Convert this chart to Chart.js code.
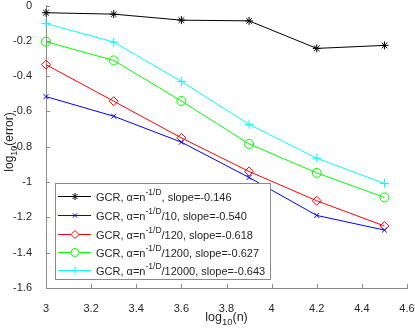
<!DOCTYPE html>
<html>
<head>
<meta charset="utf-8">
<script src="https://cdn.jsdelivr.net/npm/chart.js@4/dist/chart.umd.min.js"></script>
<style>
  html, body { margin: 0; padding: 0; background: #fff; }
  #wrap { width: 415px; height: 328px; }
</style>
</head>
<body>
<div id="wrap"><canvas id="errChart"></canvas></div>
<script>
// =========================
// DATA
// =========================

const logN = [3, 3.3, 3.6, 3.9, 4.2, 4.5];

const errA1 = [-0.041, -0.049, -0.083, -0.087, -0.243, -0.226];
const errA10 = [-0.516, -0.627, -0.774, -0.974, -1.189, -1.272];
const errA120 = [-0.335, -0.542, -0.750, -0.940, -1.106, -1.249];
const errA1200 = [-0.205, -0.311, -0.541, -0.784, -0.948, -1.087];
const errA12000 = [-0.102, -0.207, -0.430, -0.673, -0.865, -1.008];

const divisors = ["", "/10", "/120", "/1200", "/12000"];
const slopes = ["-0.146", "-0.540", "-0.618", "-0.627", "-0.643"];

const xTicks = [3, 3.2, 3.4, 3.6, 3.8, 4, 4.2, 4.4, 4.6];
const yTicks = [0, -0.2, -0.4, -0.6, -0.8, -1, -1.2, -1.4, -1.6];


// =========================
// STYLE
// =========================

const FONT = "'Liberation Sans', Arial, sans-serif";
const TEXT = "#262626";
const AXIS = "#8a8a8a";

const seriesStyle = [
  { color: "#000000", point: "star", radius: 4 },
  { color: "#0000ff", point: "crossRot", radius: 3.5 },
  { color: "#ff0000", point: "rectRot", radius: 4.5 },
  { color: "#00ff00", point: "circle", radius: 4.5 },
  { color: "#00ffff", point: "cross", radius: 4.5 }
];

const seriesData = [errA1, errA10, errA120, errA1200, errA12000];


function toPoints(values) {

  return values.map(
    (v, i) => ({ x: logN[i], y: v })
  );

}


// draw text made of runs: [text, dy, size]
function drawRuns(ctx, runs, x, y) {

  let cx = x;

  runs.forEach(run => {
    ctx.font = run[2] + "px " + FONT;
    ctx.fillText(run[0], cx, y + run[1]);
    cx += ctx.measureText(run[0]).width;
  });

  return cx - x;

}

function runsWidth(ctx, runs) {

  let w = 0;

  runs.forEach(run => {
    ctx.font = run[2] + "px " + FONT;
    w += ctx.measureText(run[0]).width;
  });

  return w;

}


// =========================
// AXES + LEGEND PLUGIN
// =========================

const matlabAxes = {

  id: "matlabAxes",

  afterDraw(chart) {

    const ctx = chart.ctx;
    const xs = chart.scales.x;
    const ys = chart.scales.y;
    const area = chart.chartArea;

    ctx.save();

    // inward ticks
    ctx.strokeStyle = AXIS;
    ctx.lineWidth = 1;
    ctx.beginPath();

    xTicks.forEach(t => {
      const px = Math.round(xs.getPixelForValue(t)) + 0.5;
      ctx.moveTo(px, area.bottom);
      ctx.lineTo(px, area.bottom - 4);
    });

    yTicks.forEach(t => {
      const py = Math.round(ys.getPixelForValue(t)) + 0.5;
      ctx.moveTo(area.left, py);
      ctx.lineTo(area.left + 4, py);
    });

    ctx.stroke();

    // axis titles
    ctx.fillStyle = TEXT;
    ctx.textBaseline = "alphabetic";

    const xTitle = [["log", 0, 12.5], ["10", 4, 9.5], ["(n)", 0, 12.5]];
    const xw = runsWidth(ctx, xTitle);
    drawRuns(ctx, xTitle, (area.left + area.right) / 2 - xw / 2, 321);

    const yTitle = [["log", 0, 12], ["10", 4, 9], ["(error)", 0, 12]];
    const yw = runsWidth(ctx, yTitle);
    ctx.save();
    ctx.translate(13, 142);
    ctx.rotate(-Math.PI / 2);
    drawRuns(ctx, yTitle, -yw / 2, 0);
    ctx.restore();

    // legend box
    const lx = 55;
    const ly = 183;
    const lw = 215;
    const lh = 96;

    ctx.fillStyle = "#ffffff";
    ctx.fillRect(lx, ly, lw, lh);
    ctx.strokeStyle = AXIS;
    ctx.strokeRect(lx + 0.5, ly + 0.5, lw, lh);

    const rowY = [196, 215, 234, 252, 270];

    seriesStyle.forEach((s, i) => {

      const y = rowY[i];

      ctx.strokeStyle = s.color;
      ctx.lineWidth = 1;
      ctx.beginPath();
      ctx.moveTo(58, y + 0.5);
      ctx.lineTo(91, y + 0.5);
      ctx.stroke();

      ctx.fillStyle = "#ffffff";
      Chart.helpers.drawPoint(
        ctx,
        {
          pointStyle: s.point,
          radius: s.radius - 0.5,
          borderWidth: 1,
          rotation: 0
        },
        75,
        y + 0.5
      );

      ctx.fillStyle = TEXT;
      drawRuns(
        ctx,
        [
          ["GCR, α=n", 5, 11],
          ["-1/D", -1, 8.5],
          [divisors[i] + ", slope=" + slopes[i], 5, 11]
        ],
        96,
        y
      );

    });

    ctx.restore();

  }

};


// =========================
// CHART
// =========================

const datasets = seriesData.map((vals, i) => {

  const s = seriesStyle[i];

  return {
    data: toPoints(vals),
    borderColor: s.color,
    backgroundColor: "rgba(0,0,0,0)",
    borderWidth: 1,
    pointStyle: s.point,
    pointRadius: s.radius,
    pointHoverRadius: s.radius,
    pointBorderColor: s.color,
    pointBorderWidth: 1,
    pointBackgroundColor: "rgba(0,0,0,0)",
    tension: 0,
    clip: false
  };

});


new Chart(
  document.getElementById("errChart"),
  {
    type: "line",

    data: { datasets },

    options: {
      responsive: true,
      maintainAspectRatio: false,
      animation: false,
      events: [],
      layout: {
        padding: { top: 5, right: 8, left: 0, bottom: 0 }
      },
      plugins: {
        legend: { display: false },
        tooltip: { enabled: false }
      },
      scales: {
        x: {
          type: "linear",
          min: 3,
          max: 4.6,
          afterFit(scale) {
            scale.height = 40;
            scale.paddingLeft = 0;
            scale.paddingRight = 0;
          },
          afterBuildTicks(scale) {
            scale.ticks = xTicks.map(v => ({ value: v }));
          },
          grid: { display: false },
          border: { display: true, color: AXIS, width: 1 },
          ticks: {
            color: TEXT,
            padding: 6,
            maxRotation: 0,
            font: { family: FONT, size: 11 },
            callback: v => String(Number(v.toFixed(1)))
          }
        },
        y: {
          type: "linear",
          min: -1.6,
          max: 0,
          afterFit(scale) {
            scale.width = 46;
            scale.paddingTop = 0;
            scale.paddingBottom = 0;
          },
          afterBuildTicks(scale) {
            scale.ticks = yTicks.map(v => ({ value: v }));
          },
          grid: { display: false },
          border: { display: true, color: AXIS, width: 1 },
          ticks: {
            color: TEXT,
            padding: 6,
            font: { family: FONT, size: 11 },
            callback: v => String(Number(v.toFixed(1)))
          }
        }
      }
    },

    plugins: [matlabAxes]
  }
);
</script>
</body>
</html>
